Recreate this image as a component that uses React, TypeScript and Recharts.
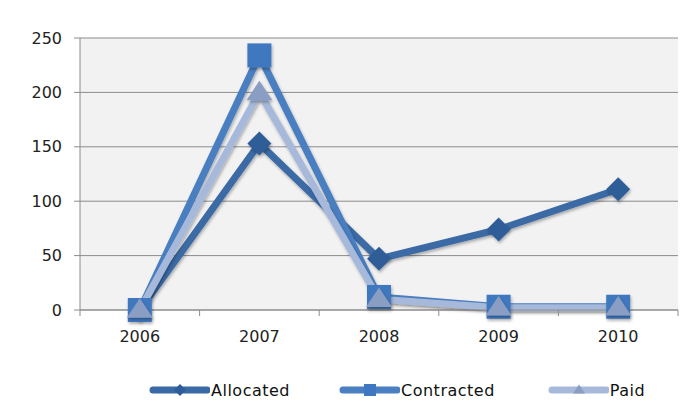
import React from 'react';
import { LineChart, Line, XAxis, YAxis, CartesianGrid, Legend } from 'recharts';

const YEARS = ['2006', '2007', '2008', '2009', '2010'];
const ALLOCATED = [0, 153, 47, 74, 111];
const CONTRACTED = [0, 234, 12, 3, 3];
const PAID = [0, 200, 10, 2, 2];
const Y_TICKS = [0, 50, 100, 150, 200, 250];

const SERIES = [
    { key: 'allocated', name: 'Allocated', color: '#3a6aa5', shape: 'diamond' },
    { key: 'contracted', name: 'Contracted', color: '#4a7fc1', shape: 'square' },
    { key: 'paid', name: 'Paid', color: '#a6b9da', shape: 'triangle' },
];

// x positions sit in the middle of each year band so the axis ticks fall on the band edges
const DATA = YEARS.map((year, i) => ({
    x: i + 0.5,
    year,
    allocated: ALLOCATED[i],
    contracted: CONTRACTED[i],
    paid: PAID[i],
}));

const EDGE_TICKS = YEARS.map((_, i) => i).concat(YEARS.length);

const FONT = '"DejaVu Sans", Verdana, sans-serif';
const BAND = 598 / YEARS.length;

function Marker({ shape, cx, cy, color, size }: any) {
    if (cx == null || cy == null) return null;
    const s = size;
    if (shape === 'diamond') {
        return (
            <polygon
                points={`${cx},${cy - s / 2} ${cx + s / 2},${cy} ${cx},${cy + s / 2} ${cx - s / 2},${cy}`}
                fill={color}
            />
        );
    }
    if (shape === 'square') {
        return <rect x={cx - s / 2} y={cy - s / 2} width={s} height={s} fill={color} />;
    }
    return (
        <polygon
            points={`${cx},${cy - s * 0.45} ${cx + s / 2},${cy + s * 0.3} ${cx - s / 2},${cy + s * 0.3}`}
            fill={color}
        />
    );
}

function markerColor(shape: string) {
    if (shape === 'diamond') return '#2f5d97';
    if (shape === 'square') return '#3f78c0';
    return '#8a9dc2';
}

function YearTick({ x, y, index }: any) {
    if (index >= YEARS.length) return null;
    return (
        <text
            x={x + BAND / 2}
            y={y}
            dy={24}
            textAnchor="middle"
            fontFamily={FONT}
            fontSize={16}
            fill="#222"
        >
            {YEARS[index]}
        </text>
    );
}

const LEGEND_GAPS = [0, 46, 50];

function LegendContent() {
    return (
        <div
            style={{
                display: 'flex',
                alignItems: 'center',
                fontFamily: FONT,
                fontSize: 16,
                letterSpacing: 0.5,
                color: '#111',
                paddingLeft: 146,
                paddingTop: 16,
            }}
        >
            {SERIES.map((s, i) => (
                <div key={s.key} style={{ display: 'flex', alignItems: 'center', marginLeft: LEGEND_GAPS[i] }}>
                    <svg width={64} height={20}>
                        <line x1={7} x2={61} y1={10} y2={10} stroke={s.color} strokeWidth={7} strokeLinecap="round" />
                        <Marker shape={s.shape} cx={34} cy={10} size={12} color={markerColor(s.shape)} />
                    </svg>
                    <span style={{ marginLeft: 1 }}>{s.name}</span>
                </div>
            ))}
        </div>
    );
}

export default function App() {
    return (
        <div style={{ position: 'absolute', left: 0, top: 0, width: 687, height: 414, background: '#fff' }}>
            <LineChart
                width={687}
                height={414}
                data={DATA}
                margin={{ top: 38, right: 9, left: 0, bottom: 0 }}
            >
                <defs>
                    <filter id="shadow" x="-20%" y="-20%" width="140%" height="140%">
                        <feDropShadow dx="1" dy="2" stdDeviation="1.5" floodColor="#000" floodOpacity="0.3" />
                    </filter>
                </defs>
                <CartesianGrid fill="#f2f2f2" stroke="#8c8c8c" vertical={false} />
                <XAxis
                    dataKey="x"
                    type="number"
                    domain={[0, YEARS.length]}
                    ticks={EDGE_TICKS}
                    interval={0}
                    stroke="#8c8c8c"
                    tickSize={6}
                    height={54}
                    tick={<YearTick />}
                />
                <YAxis
                    domain={[0, 250]}
                    ticks={Y_TICKS}
                    interval={0}
                    width={80}
                    stroke="#8c8c8c"
                    tickSize={6}
                    tickMargin={12}
                    tick={{ fontFamily: FONT, fontSize: 16, fill: '#222' }}
                />
                <Legend verticalAlign="bottom" height={50} content={<LegendContent />} />
                {SERIES.map((s) => (
                    <Line
                        key={s.key}
                        dataKey={s.key}
                        name={s.name}
                        type="linear"
                        stroke={s.color}
                        strokeWidth={7}
                        isAnimationActive={false}
                        style={{ filter: 'url(#shadow)' }}
                        dot={(p: any) => (
                            <g key={`${s.key}-${p.index}`} filter="url(#shadow)">
                                <Marker
                                    shape={s.shape}
                                    cx={p.cx}
                                    cy={p.cy}
                                    size={s.shape === 'triangle' ? 26 : 24}
                                    color={markerColor(s.shape)}
                                />
                            </g>
                        )}
                        activeDot={false}
                    />
                ))}
            </LineChart>
        </div>
    );
}
